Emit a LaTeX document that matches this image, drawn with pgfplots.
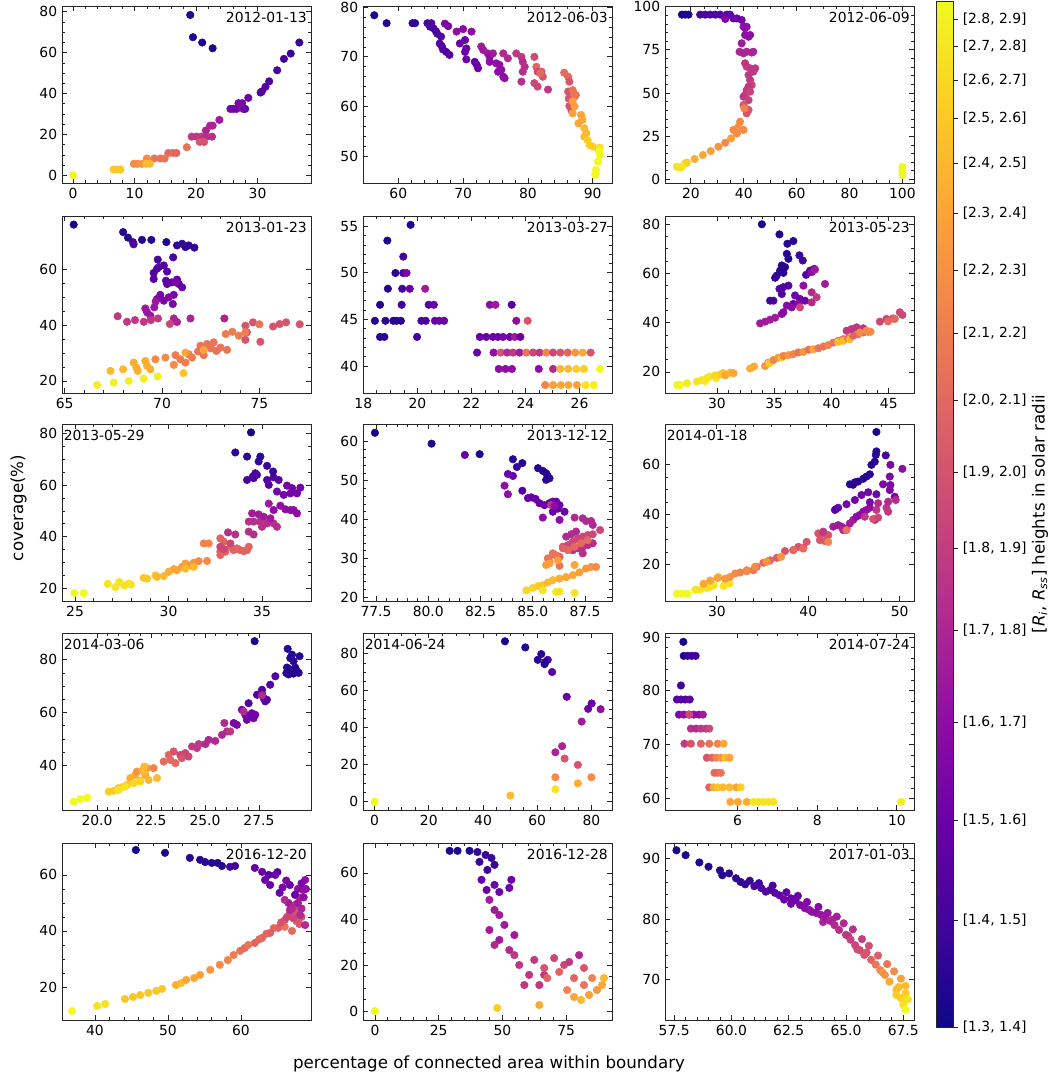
\documentclass[border=0pt]{standalone}
\usepackage{fontspec}
\setmainfont{DejaVu Sans}
\usepackage{pgfplots}
\pgfplotsset{compat=1.18}

\pgfplotsset{
  colormap={plasma}{rgb255=(13,8,135) rgb255=(65,4,157) rgb255=(106,0,168) rgb255=(143,13,164) rgb255=(177,42,144) rgb255=(204,71,120) rgb255=(225,100,98) rgb255=(242,132,75) rgb255=(252,166,54) rgb255=(252,206,37) rgb255=(240,249,33)},
  panel/.style={
    scale only axis, width=179.28pt, height=127.44pt, anchor=north west,
    axis on top, clip=true, scaled ticks=false,
    tick align=inside, xtick pos=both, ytick pos=both,
    xticklabel pos=lower, yticklabel pos=left,
    major tick length=3.5pt, minor tick length=2pt,
    axis line style={black!85, line width=0.6pt},
    every tick/.append style={black!85, line width=0.6pt},
    every minor tick/.append style={line width=0.45pt},
    tick label style={font=\fontsize{10}{12}\selectfont},
    /pgf/number format/assume math mode=true,
    colormap name=plasma, point meta min=0, point meta max=1,
  },
  dots/.style={scatter, only marks, scatter src=explicit, mark=*, mark size=2.7pt,
    scatter/use mapped color={draw=mapped color, fill=mapped color}},
  zf/.style={xticklabel style={/pgf/number format/.cd, fixed, fixed zerofill, precision=1}},
}
\newcommand{\dateR}[1]{\node[anchor=north east, inner sep=0pt, font=\fontsize{10}{12}\selectfont, xshift=-2.9pt, yshift=-4.3pt] at (rel axis cs:1,1) {#1};}
\newcommand{\dateL}[1]{\node[anchor=north west, inner sep=0pt, font=\fontsize{10}{12}\selectfont, xshift=1.1pt, yshift=-4.1pt] at (rel axis cs:0,1) {#1};}

\begin{document}
\begin{tikzpicture}
\path[use as bounding box] (0,0) rectangle (755.28pt,776.16pt);

% ---------- row 1 ----------
\begin{axis}[panel, at={(44.64pt,771.84pt)},
  xmin=-1.8, xmax=38.7, ymin=-3.8, ymax=82.9,
  xtick={0,10,20,30}, ytick={0,20,40,60,80}, minor x tick num=4, minor y tick num=3]
\addplot[dots] table[meta=c] {
x y c
19.06 78.5 0.03
19.5 67.6 0.03
21.0 65.0 0.03
22.7 62.2 0.03
36.8 65.0 0.08
35.4 59.6 0.08
34.3 57.0 0.1
33.2 51.4 0.12
31.9 46.0 0.13
31.3 43.3 0.15
30.5 40.5 0.15
30.7 41.0 0.15
28.5 37.9 0.2
27.5 35.3 0.25
26.9 35.3 0.25
26.6 32.5 0.25
26.1 32.5 0.22
27.7 32.5 0.25
25.6 32.5 0.22
28.0 32.5 0.2
23.8 27.1 0.35
22.7 24.3 0.38
22.3 24.3 0.38
21.6 21.9 0.38
19.3 18.9 0.45
20.1 18.9 0.45
20.9 18.9 0.45
21.7 18.9 0.42
22.6 18.9 0.42
20.6 16.3 0.55
21.3 16.3 0.55
18.5 13.7 0.65
15.5 10.9 0.62
16.2 10.9 0.62
16.8 10.9 0.6
14.9 8.2 0.65
14.2 8.2 0.65
13.2 8.2 0.65
12.0 8.2 0.72
9.9 5.6 0.72
10.5 5.6 0.72
11.2 5.6 0.75
11.9 5.6 0.85
12.5 5.6 0.85
6.6 2.8 0.88
7.1 2.8 0.88
7.7 2.8 0.88
0 0 1.0
};
\dateR{2012-01-13}
\end{axis}

\begin{axis}[panel, at={(261.36pt,771.84pt)},
  xmin=54.56, xmax=92.97, ymin=44.55, ymax=80.27,
  xtick={60,70,80,90}, ytick={50,60,70,80}, minor x tick num=4, minor y tick num=4]
\addplot[dots] table[meta=c] {
x y c
56.3 78.4 0.03
58.2 76.8 0.05
62.2 76.8 0.07
62.6 76.8 0.07
64.5 76.8 0.1
65.1 76.8 0.15
64.9 76.1 0.12
65.4 75.8 0.12
65.8 75.2 0.12
66.0 74.7 0.12
66.6 74.1 0.15
66.4 72.7 0.15
66.7 72.2 0.15
66.9 71.5 0.15
67.4 71.0 0.15
67.9 70.4 0.15
67.2 76.7 0.25
67.7 76.2 0.25
69.0 75.1 0.3
70.0 75.6 0.3
71.3 75.1 0.3
69.5 72.7 0.2
70.3 73.4 0.2
70.5 71.7 0.2
70.3 71.0 0.2
70.5 69.5 0.2
71.8 69.0 0.2
72.1 68.4 0.2
72.3 67.7 0.2
72.8 72.1 0.35
73.1 71.4 0.35
73.8 70.7 0.35
74.1 70.0 0.3
74.6 70.7 0.35
74.1 69.0 0.3
75.1 68.7 0.3
75.6 68.4 0.3
75.9 67.4 0.3
75.4 67.0 0.3
76.2 66.0 0.3
76.4 65.7 0.3
76.2 70.7 0.4
76.9 69.7 0.4
78.2 70.7 0.45
79.0 70.0 0.45
79.2 69.0 0.42
79.5 68.0 0.42
79.2 67.0 0.42
79.0 65.0 0.42
81.0 70.0 0.5
81.3 68.0 0.6
81.5 67.0 0.5
81.0 64.7 0.5
81.5 64.0 0.5
82.1 67.0 0.55
82.3 66.0 0.55
81.9 66.7 0.62
83.1 63.4 0.45
85.6 66.8 0.62
86.2 66.0 0.62
86.4 65.0 0.55
86.2 63.0 0.55
86.3 61.6 0.55
86.4 60.1 0.55
86.7 59.3 0.55
86.9 63.3 0.65
87.2 62.0 0.65
87.4 62.3 0.65
86.9 61.0 0.78
87.2 60.0 0.78
86.9 58.6 0.78
88.2 58.3 0.8
88.4 57.3 0.8
87.8 56.6 0.8
88.7 55.6 0.85
89.0 54.6 0.85
88.7 53.9 0.85
89.2 53.2 0.9
89.5 52.2 0.9
90.0 51.9 0.9
90.8 51.5 0.9
91.1 51.7 0.95
91.0 50.9 1.0
91.1 50.2 1.0
90.8 48.9 1.0
90.5 47.2 1.0
90.4 46.2 1.0
};
\dateR{2012-06-03}
\end{axis}

\begin{axis}[panel, at={(478.8pt,771.84pt)},
  xmin=10.2, xmax=104.4, ymin=-2.1, ymax=100.4,
  xtick={20,40,60,80,100}, ytick={0,25,50,75,100}, minor x tick num=3, minor y tick num=4]
\addplot[dots] table[meta=c] {
x y c
16.6 95.4 0.03
17.9 95.4 0.03
19.1 95.4 0.03
23.5 95.4 0.12
25.4 95.4 0.12
27.3 95.4 0.15
29.2 95.4 0.15
31.1 95.4 0.15
33.6 95.4 0.15
34.8 95.4 0.18
36.1 93.2 0.2
37.4 93.2 0.2
39.2 92.3 0.22
33.0 92.9 0.25
39.9 88.4 0.3
40.5 87.5 0.3
41.1 88.4 0.3
40.5 83.6 0.3
42.4 83.6 0.3
41.8 82.6 0.3
39.2 78.8 0.35
38.4 73.9 0.38
39.9 73.0 0.38
41.1 73.9 0.38
43.0 73.4 0.38
43.6 73.9 0.38
40.5 67.2 0.45
41.1 65.3 0.45
42.4 64.3 0.45
44.3 64.3 0.45
43.6 62.4 0.45
41.8 60.4 0.45
42.4 57.5 0.45
43.0 54.6 0.5
41.8 53.7 0.45
41.1 51.7 0.45
42.4 50.8 0.48
40.5 48.8 0.48
39.9 47.9 0.45
41.8 45.9 0.48
39.9 43.1 0.55
40.5 41.1 0.55
41.8 40.2 0.55
41.1 38.2 0.55
40.2 41.1 0.7
38.6 33.4 0.72
38.0 30.5 0.72
36.1 28.6 0.72
37.4 26.6 0.72
39.9 28.6 0.72
35.2 23.7 0.78
33.0 21.2 0.72
30.4 18.9 0.75
27.5 16.4 0.78
24.5 14.1 0.8
21.4 11.8 0.82
18.5 9.7 0.9
17.9 9.3 0.9
14.7 7.3 0.95
16.0 6.9 0.95
16.6 7.3 0.95
100.0 7.3 1.0
100.0 5.0 1.0
100.0 2.5 1.0
};
\dateR{2012-06-09}
\end{axis}

% ---------- row 2 ----------
\begin{axis}[panel, at={(44.64pt,620.64pt)},
  xmin=64.86, xmax=77.65, ymin=15.66, ymax=79.4,
  xtick={65,70,75}, ytick={20,40,60}, minor x tick num=4, minor y tick num=3]
\addplot[dots] table[meta=c] {
x y c
65.46 76.3 0.02
68.0 73.6 0.05
68.25 71.6 0.05
68.5 70.0 0.12
68.54 69.2 0.12
68.97 70.8 0.05
69.45 70.8 0.05
70.22 70.0 0.03
70.77 68.8 0.07
71.03 69.4 0.07
71.2 68.2 0.07
71.37 68.8 0.07
71.66 68.0 0.07
69.78 63.7 0.12
70.57 64.5 0.12
69.57 58.9 0.15
69.74 60.4 0.15
70.09 61.6 0.15
70.26 59.4 0.15
69.83 61.0 0.15
69.57 56.7 0.15
70.2 56.1 0.18
70.26 54.9 0.18
70.5 55.5 0.18
70.77 56.5 0.18
70.86 54.9 0.18
71.03 53.7 0.18
70.7 55.5 0.25
69.91 51.0 0.25
69.74 49.5 0.25
70.09 48.9 0.25
70.34 50.1 0.25
70.6 51.0 0.25
70.55 47.7 0.25
69.6 46.5 0.33
69.14 46.1 0.33
69.23 44.7 0.33
69.4 43.5 0.33
69.67 48.6 0.33
67.72 43.3 0.45
68.2 41.3 0.45
68.61 41.9 0.45
69.06 41.3 0.45
69.43 41.9 0.45
69.79 42.5 0.45
70.6 42.5 0.38
70.77 41.2 0.38
71.46 42.5 0.38
73.2 42.5 0.38
70.4 40.5 0.5
74.28 39.9 0.55
74.67 41.1 0.55
74.36 37.5 0.55
74.28 34.8 0.55
75.05 34.1 0.55
75.7 39.6 0.55
76.04 40.5 0.55
76.37 41.1 0.55
77.07 40.4 0.55
75.0 40.4 0.65
73.27 36.9 0.68
73.61 37.7 0.68
73.94 36.3 0.68
74.28 37.5 0.68
71.97 32.7 0.65
72.31 33.3 0.65
72.65 33.9 0.65
73.0 32.0 0.65
73.34 31.2 0.65
72.79 30.8 0.65
72.52 31.7 0.65
72.14 29.3 0.65
71.85 30.6 0.65
70.69 29.3 0.68
70.94 27.8 0.68
71.2 26.6 0.68
71.37 29.6 0.68
71.54 28.4 0.68
70.6 25.8 0.72
70.17 28.4 0.72
69.66 27.8 0.72
71.2 30.2 0.8
72.14 31.1 0.8
68.54 26.6 0.82
68.68 24.8 0.82
68.75 23.6 0.82
69.14 27.2 0.82
69.23 25.4 0.82
69.4 24.2 0.82
67.35 23.6 0.85
68.0 24.2 0.85
71.1 22.8 0.88
66.66 18.6 0.98
67.52 19.4 0.98
68.29 20.0 0.98
69.06 20.8 0.98
69.78 21.6 0.98
};
\dateR{2013-01-23}
\end{axis}

\begin{axis}[panel, at={(261.36pt,620.64pt)},
  xmin=17.99, xmax=27.2, ymin=37.1, ymax=56.1,
  xtick={18,20,22,24,26}, ytick={40,45,50,55}, minor x tick num=3, minor y tick num=4]
\addplot[dots] table[meta=c] {
x y c
19.75 55.15 0.03
18.89 53.46 0.03
19.48 51.74 0.1
19.19 49.98 0.05
19.48 49.98 0.12
19.6 49.98 0.25
18.91 48.29 0.05
19.44 48.29 0.1
19.72 48.29 0.2
20.29 48.29 0.35
18.62 46.57 0.05
19.42 46.57 0.1
20.42 46.57 0.15
20.61 46.57 0.2
22.68 46.57 0.3
22.89 46.57 0.35
23.49 46.57 0.15
18.43 44.85 0.05
18.82 44.85 0.05
19.11 44.85 0.05
19.23 44.85 0.05
19.39 44.85 0.05
20.15 44.85 0.12
20.31 44.85 0.12
20.65 44.85 0.2
20.81 44.85 0.2
20.99 44.85 0.2
23.66 44.85 0.3
24.08 44.85 0.55
18.62 43.12 0.05
18.78 43.12 0.05
19.99 43.12 0.1
22.31 43.12 0.2
22.55 43.12 0.2
22.8 43.12 0.2
22.98 43.12 0.2
23.17 43.12 0.25
23.42 43.12 0.2
23.6 43.12 0.35
23.81 43.12 0.2
22.21 41.44 0.2
22.82 41.44 0.3
23.08 41.44 0.55
23.32 41.44 0.4
23.54 41.44 0.45
23.78 41.44 0.35
24.03 41.44 0.65
24.28 41.44 0.5
24.52 41.44 0.45
24.77 41.44 0.7
25.02 41.44 0.5
25.29 41.44 0.55
25.56 41.44 0.6
25.84 41.44 0.75
26.12 41.44 0.8
26.41 41.44 0.55
23.01 39.68 0.3
23.26 39.68 0.3
23.5 39.68 0.3
24.49 39.68 0.3
25.02 39.68 0.4
25.29 39.68 0.85
25.58 39.68 0.85
25.88 39.68 0.9
26.16 39.68 0.9
26.76 39.68 1.0
24.73 37.95 0.7
25.02 37.95 0.78
25.31 37.95 0.8
25.59 37.95 0.8
25.9 37.95 0.78
26.22 37.95 0.95
26.52 37.95 0.98
};
\dateR{2013-03-27}
\end{axis}

\begin{axis}[panel, at={(478.8pt,620.64pt)},
  xmin=25.47, xmax=47.2, ymin=11.45, ymax=83.26,
  xtick={30,35,40,45}, ytick={20,40,60,80}, minor x tick num=4, minor y tick num=3]
\addplot[dots] table[meta=c] {
x y c
33.92 79.9 0.02
35.46 75.8 0.04
36.15 72.0 0.05
36.67 73.1 0.05
36.1 67.9 0.05
36.24 65.9 0.05
37.2 67.3 0.08
37.49 65.2 0.1
35.66 63.2 0.05
35.95 62.5 0.05
35.51 61.1 0.05
35.8 60.2 0.05
35.22 59.1 0.08
35.08 58.2 0.08
37.78 59.4 0.15
38.13 61.1 0.15
38.5 61.8 0.15
37.55 55.0 0.3
38.27 60.5 0.3
38.56 61.5 0.35
35.46 53.7 0.15
35.8 54.4 0.15
36.24 55.0 0.15
35.66 51.6 0.15
39.43 55.7 0.35
34.64 48.9 0.12
34.93 48.9 0.12
36.82 51.0 0.2
37.25 49.6 0.2
37.69 48.9 0.2
36.67 47.6 0.2
38.27 52.3 0.4
38.27 48.2 0.4
38.7 50.3 0.45
36.1 46.9 0.28
35.8 44.2 0.28
35.66 43.5 0.28
36.53 46.2 0.28
37.1 47.6 0.28
37.25 46.2 0.5
33.77 39.7 0.35
34.21 40.4 0.35
34.64 41.2 0.35
35.08 42.0 0.35
26.52 14.7 1.0
26.81 14.7 1.0
27.39 15.4 0.97
28.26 16.1 0.95
28.69 16.7 0.95
28.98 16.3 0.97
29.19 17.7 0.95
29.42 18.1 0.95
29.94 17.4 0.97
29.85 18.6 0.92
30.29 19.0 0.9
30.58 19.5 0.88
31.16 19.7 0.85
31.45 19.5 0.8
30.73 18.6 0.8
32.9 21.4 0.82
33.25 22.2 0.82
34.21 22.4 0.75
34.5 23.8 0.75
34.58 23.5 0.9
34.93 24.8 0.7
35.37 25.8 0.75
35.66 25.8 0.9
35.8 26.5 0.7
36.24 26.8 0.75
36.67 27.2 0.7
37.1 27.9 0.65
37.55 28.1 0.75
38.0 29.0 0.65
38.41 29.2 0.8
38.85 29.6 0.65
39.29 30.3 0.65
39.72 30.9 0.7
40.16 31.9 0.65
40.59 32.6 0.6
40.59 32.2 0.85
41.03 33.3 0.65
41.03 32.6 0.85
41.46 33.6 0.65
41.61 33.3 0.85
41.9 34.7 0.6
42.33 35.3 0.6
42.77 36.0 0.6
43.2 36.3 0.65
41.32 36.7 0.45
41.75 37.4 0.45
42.19 38.1 0.45
42.77 37.7 0.45
42.48 36.0 0.72
43.06 36.7 0.72
43.41 36.3 0.72
44.22 40.4 0.5
44.8 41.5 0.5
45.38 41.7 0.5
45.96 44.2 0.5
46.19 43.1 0.5
44.94 40.5 0.62
45.52 41.5 0.62
};
\dateR{2013-05-23}
\end{axis}

% ---------- row 3 ----------
\begin{axis}[panel, at={(44.64pt,470.88pt)},
  xmin=24.3, xmax=37.62, ymin=14.93, ymax=83.77,
  xtick={25,30,35}, ytick={20,40,60,80}, minor x tick num=4, minor y tick num=3]
\addplot[dots] table[meta=c] {
x y c
24.96 18.0 1.0
25.46 18.0 1.0
26.75 21.6 0.95
27.16 20.3 0.95
27.37 22.3 0.95
27.64 21.0 0.95
27.87 21.7 0.95
27.99 21.3 0.95
28.67 23.9 0.88
28.85 23.6 0.88
29.3 24.9 0.88
29.39 24.3 0.85
29.74 24.6 0.85
30.01 26.3 0.82
30.28 27.3 0.8
30.45 26.9 0.8
30.72 28.2 0.78
30.9 29.5 0.78
31.17 28.8 0.75
31.35 29.8 0.75
31.61 30.4 0.72
32.06 30.5 0.72
30.9 27.5 0.85
31.35 28.2 0.85
31.88 37.3 0.7
32.15 37.3 0.7
32.77 39.3 0.6
32.95 38.0 0.6
32.77 34.1 0.6
32.77 32.8 0.6
33.04 34.1 0.6
33.31 36.0 0.6
33.48 34.7 0.6
33.66 35.4 0.6
33.84 34.7 0.6
34.02 34.3 0.6
34.2 34.7 0.6
34.29 36.0 0.6
32.77 36.0 0.5
32.95 35.1 0.5
33.31 37.3 0.5
33.18 41.6 0.42
33.57 40.8 0.42
34.29 41.9 0.42
34.55 40.8 0.42
34.29 45.8 0.42
34.55 45.8 0.42
34.88 45.8 0.42
35.0 43.8 0.42
35.27 45.1 0.42
35.62 45.1 0.42
35.8 43.8 0.42
34.47 49.0 0.35
34.82 48.6 0.35
35.09 47.7 0.35
35.45 47.1 0.35
35.36 52.8 0.35
35.62 50.3 0.3
35.98 52.0 0.3
36.25 50.6 0.3
36.52 50.3 0.3
36.69 50.3 0.3
36.87 49.0 0.3
35.8 57.5 0.22
36.16 56.2 0.22
36.34 59.8 0.22
36.61 58.8 0.22
36.87 56.8 0.22
37.05 59.0 0.22
36.52 56.8 0.22
34.2 62.0 0.12
34.55 62.7 0.12
34.73 64.0 0.12
34.64 64.6 0.12
34.5 63.3 0.12
35.27 62.0 0.15
35.36 60.1 0.15
35.62 63.0 0.15
35.89 62.0 0.15
33.57 72.7 0.06
34.2 71.1 0.06
34.82 69.2 0.06
34.91 71.1 0.06
35.27 67.5 0.08
35.59 65.3 0.08
34.41 80.5 0.02
};
\dateL{2013-05-29}
\end{axis}

\begin{axis}[panel, zf, at={(261.36pt,470.88pt)},
  xmin=76.88, xmax=88.79, ymin=19.05, ymax=64.56,
  xtick={77.5,80,82.5,85,87.5}, ytick={20,30,40,50,60}, minor x tick num=4, minor y tick num=4]
\addplot[dots] table[meta=c] {
x y c
77.45 62.3 0.02
80.16 59.5 0.03
81.75 56.6 0.2
82.46 56.8 0.03
84.05 55.5 0.05
84.5 54.5 0.05
84.24 53.5 0.08
83.81 51.7 0.2
84.05 51.2 0.2
83.65 48.7 0.3
83.81 46.5 0.3
84.5 47.4 0.15
85.25 53.2 0.05
85.48 52.5 0.05
85.64 51.9 0.05
85.72 51.1 0.05
85.64 50.2 0.05
85.8 50.6 0.05
84.77 45.5 0.2
84.93 45.7 0.2
85.13 45.3 0.2
85.32 44.2 0.2
85.56 43.7 0.2
85.8 44.2 0.2
85.96 44.6 0.2
86.12 44.6 0.2
86.28 43.7 0.2
85.96 42.0 0.2
86.52 42.0 0.2
86.2 42.8 0.2
85.48 40.5 0.3
85.88 43.7 0.45
86.04 43.5 0.3
86.28 39.9 0.3
86.6 35.6 0.4
86.84 36.2 0.4
87.07 36.9 0.4
87.0 40.5 0.4
87.39 40.3 0.4
87.55 39.6 0.4
87.79 39.6 0.4
87.87 38.6 0.4
86.44 33.0 0.5
86.68 33.4 0.5
86.92 34.3 0.5
87.15 35.1 0.5
87.39 35.6 0.5
87.63 36.0 0.5
87.87 36.2 0.5
88.22 37.3 0.5
86.92 32.1 0.42
87.15 32.6 0.42
87.39 33.0 0.42
87.63 33.4 0.42
87.87 33.9 0.42
87.39 31.3 0.42
86.68 32.1 0.62
87.0 33.0 0.62
87.31 33.9 0.62
87.63 34.7 0.62
86.28 30.4 0.6
86.44 32.6 0.6
85.96 31.0 0.6
85.72 30.0 0.65
85.96 31.3 0.65
86.12 30.8 0.65
85.8 29.1 0.65
86.28 28.1 0.65
85.8 28.7 0.78
86.2 29.5 0.78
85.64 28.3 0.78
84.69 21.8 0.92
85.0 22.4 0.92
85.25 22.9 0.9
85.48 23.1 0.88
85.72 23.8 0.85
85.96 24.4 0.85
86.28 24.8 0.82
86.6 25.2 0.8
86.92 25.7 0.8
87.23 26.4 0.78
87.55 27.4 0.75
87.79 27.8 0.75
88.03 27.8 0.72
85.48 21.8 0.95
86.12 21.4 0.95
86.28 21.5 0.95
87.0 21.1 0.95
87.0 28.3 0.8
};
\dateR{2013-12-12}
\end{axis}

\begin{axis}[panel, at={(478.8pt,470.88pt)},
  xmin=24.33, xmax=51.56, ymin=5.37, ymax=76.4,
  xtick={30,40,50}, ytick={20,40,60}, minor x tick num=4, minor y tick num=3]
\addplot[dots] table[meta=c] {
x y c
25.64 8.3 1.0
26.18 8.3 1.0
26.8 8.3 1.0
27.64 9.9 0.95
28.18 9.9 0.95
28.91 10.6 0.95
29.27 11.0 0.95
29.64 11.7 0.95
30.18 15.0 0.88
30.73 11.4 0.95
31.38 12.3 0.95
28.55 12.3 0.8
29.27 13.6 0.8
30.07 14.6 0.78
30.91 14.3 0.75
31.45 15.0 0.75
32.0 16.4 0.72
32.55 16.8 0.7
33.27 17.3 0.68
34.0 17.7 0.65
34.36 19.1 0.62
35.09 20.7 0.62
35.82 21.7 0.6
36.55 22.7 0.58
37.45 25.4 0.55
38.36 25.8 0.55
38.91 27.1 0.55
39.45 26.7 0.55
39.82 29.1 0.55
33.27 17.7 0.72
34.18 19.1 0.72
35.45 21.1 0.75
37.02 23.1 0.75
38.36 25.8 0.62
39.45 26.4 0.62
41.09 32.5 0.55
41.64 32.5 0.5
42.18 31.8 0.55
41.27 29.8 0.55
41.82 29.4 0.55
41.64 33.2 0.45
42.18 29.1 0.7
42.73 35.2 0.35
43.27 35.8 0.35
43.64 35.2 0.35
43.82 33.8 0.4
44.18 34.5 0.35
44.55 36.5 0.35
44.91 37.9 0.35
45.27 39.2 0.3
45.64 39.9 0.3
46.0 41.2 0.3
46.36 41.9 0.3
46.73 42.8 0.3
47.27 37.9 0.4
44.18 33.8 0.65
46.18 39.2 0.45
47.09 38.3 0.55
47.64 38.8 0.5
47.45 41.9 0.45
47.64 44.6 0.4
48.73 41.2 0.45
48.55 42.8 0.45
48.73 45.2 0.4
42.91 41.9 0.22
43.27 42.8 0.22
44.18 44.2 0.22
45.09 45.9 0.22
45.82 47.9 0.22
46.55 49.0 0.22
47.45 48.2 0.22
46.73 45.0 0.25
43.0 42.2 0.15
44.55 52.2 0.05
44.9 52.0 0.05
45.09 53.0 0.05
45.45 53.3 0.05
46.0 54.4 0.05
46.36 55.3 0.05
46.73 56.2 0.05
46.91 60.0 0.05
47.27 61.3 0.05
47.38 64.0 0.05
47.45 65.4 0.05
47.45 73.2 0.02
48.47 63.8 0.1
48.91 55.3 0.25
48.98 51.9 0.25
48.91 49.9 0.25
49.45 47.2 0.25
48.98 60.0 0.25
48.18 52.2 0.25
50.29 58.4 0.3
49.56 45.9 0.4
};
\dateL{2014-01-18}
\end{axis}

% ---------- row 4 ----------
\begin{axis}[panel, zf, at={(44.64pt,320.4pt)},
  xmin=18.38, xmax=29.91, ymin=23.04, ymax=90.1,
  xtick={20,22.5,25,27.5}, ytick={40,60,80}, minor x tick num=4, minor y tick num=3]
\addplot[dots] table[meta=c] {
x y c
18.92 26.2 1.0
19.23 27.2 1.0
19.54 27.7 1.0
20.54 30.0 0.9
20.77 30.3 0.9
21.0 31.3 0.88
21.23 31.9 0.88
21.39 32.5 0.88
21.54 35.1 0.82
21.77 36.3 0.82
22.0 34.1 0.82
22.24 36.3 0.8
22.39 34.4 0.85
22.78 35.1 0.85
21.0 30.6 0.95
21.3 31.9 0.95
21.7 33.2 0.92
22.0 33.8 0.92
21.85 37.6 0.75
22.16 38.2 0.75
22.31 38.9 0.75
22.62 38.9 0.7
22.16 37.6 0.85
22.19 39.5 0.85
23.09 41.4 0.62
23.32 43.9 0.6
23.55 45.2 0.55
23.4 42.0 0.62
23.63 40.8 0.62
23.86 43.9 0.5
24.09 44.6 0.5
23.93 42.7 0.55
24.24 43.3 0.5
24.4 47.1 0.45
24.63 46.5 0.45
24.71 48.0 0.45
25.02 48.0 0.4
25.17 49.6 0.4
25.48 49.2 0.4
25.79 51.5 0.4
26.02 52.8 0.4
25.9 56.0 0.4
26.17 52.8 0.45
26.33 56.0 0.25
26.48 55.3 0.25
26.71 61.0 0.22
26.87 59.1 0.22
26.94 57.2 0.22
27.02 58.5 0.22
27.25 57.8 0.22
27.33 59.1 0.22
27.17 59.7 0.22
26.79 60.4 0.4
27.02 63.5 0.15
27.41 66.7 0.15
27.64 67.3 0.15
27.72 65.4 0.15
27.79 64.2 0.15
27.87 64.8 0.15
28.02 70.5 0.15
27.64 68.6 0.15
28.26 73.7 0.15
27.64 66.5 0.4
27.3 87.0 0.02
28.83 84.1 0.05
28.95 80.6 0.05
29.03 81.9 0.05
29.1 79.4 0.05
28.8 77.0 0.05
28.95 76.3 0.05
29.18 77.0 0.05
29.26 75.6 0.05
29.34 75.0 0.05
28.87 74.4 0.05
29.1 74.7 0.05
29.38 81.3 0.05
28.77 74.9 0.05
};
\dateL{2014-03-06}
\end{axis}

\begin{axis}[panel, at={(261.36pt,320.4pt)},
  xmin=-4.29, xmax=87.6, ymin=-4.5, ymax=91.2,
  xtick={0,20,40,60,80}, ytick={0,20,40,60,80}, minor x tick num=3, minor y tick num=3]
\addplot[dots] table[meta=c] {
x y c
0 0 1.0
48.1 86.7 0.02
55.6 83.4 0.03
61.5 79.8 0.05
60.2 76.7 0.05
62.7 74.4 0.05
63.9 76.7 0.15
63.0 75.5 0.05
65.5 70.1 0.15
70.9 56.7 0.2
78.8 50.2 0.2
80.1 53.1 0.2
83.4 50.0 0.3
76.4 43.3 0.35
66.7 26.7 0.38
69.2 30.0 0.38
70.1 23.3 0.55
75.0 19.9 0.55
66.7 13.2 0.72
80.0 13.2 0.72
75.0 9.9 0.82
66.7 6.7 0.95
50.1 3.3 0.85
};
\dateL{2014-06-24}
\end{axis}

\begin{axis}[panel, at={(478.8pt,320.4pt)},
  xmin=4.18, xmax=10.43, ymin=57.9, ymax=90.74,
  xtick={6,8,10}, ytick={60,70,80,90}, minor x tick num=3, minor y tick num=4]
\addplot[dots] table[meta=c] {
x y c
4.64 89.1 0.02
4.65 86.5 0.03
4.75 86.5 0.08
4.85 86.5 0.1
4.95 86.5 0.1
4.58 81.0 0.1
4.48 78.4 0.15
4.58 78.4 0.15
4.69 78.4 0.15
4.8 78.4 0.15
4.53 75.6 0.25
4.65 75.6 0.3
4.78 75.6 0.3
4.9 75.6 0.3
5.03 75.6 0.3
5.13 75.6 0.35
4.79 75.6 0.5
4.83 73.0 0.42
4.96 73.0 0.4
5.08 73.0 0.45
5.21 73.0 0.45
5.29 73.0 0.5
4.67 70.2 0.45
4.83 70.2 0.55
5.08 70.2 0.6
5.29 70.2 0.65
5.5 70.2 0.7
5.65 70.2 0.8
5.23 67.6 0.55
5.36 67.6 0.6
5.47 67.6 0.7
5.58 67.6 0.75
5.69 67.6 0.85
5.8 67.6 0.8
5.42 64.8 0.62
5.5 64.8 0.62
5.58 64.8 0.65
5.29 62.1 0.6
5.4 62.1 0.82
5.5 62.1 0.88
5.63 62.1 0.85
5.8 62.1 0.85
5.97 62.1 0.8
6.08 62.1 0.9
5.82 59.4 0.8
6.01 59.4 0.8
6.23 59.4 0.82
6.4 59.4 0.95
6.53 59.4 0.95
6.65 59.4 0.95
6.78 59.4 0.95
6.9 59.4 0.95
10.11 59.4 0.98
};
\dateR{2014-07-24}
\end{axis}

% ---------- row 5 ----------
\begin{axis}[panel, at={(44.64pt,169.2pt)},
  xmin=35.48, xmax=69.6, ymin=8.2, ymax=71.4,
  xtick={40,50,60}, ytick={20,40,60}, minor x tick num=4, minor y tick num=3]
\addplot[dots] table[meta=c] {
x y c
36.85 11.4 1.0
40.3 13.2 0.95
41.4 13.9 0.95
44.1 15.7 0.88
45.2 16.4 0.88
46.2 17.1 0.88
47.3 17.9 0.88
48.4 18.6 0.88
49.2 19.3 0.88
51.1 20.7 0.82
51.8 21.4 0.85
52.5 22.5 0.8
53.6 23.2 0.8
54.4 24.3 0.78
55.8 26.1 0.75
57.1 27.9 0.72
58.2 29.6 0.7
59.0 31.4 0.68
59.9 32.9 0.65
60.5 33.9 0.62
61.9 35.7 0.6
62.9 37.5 0.6
64.0 39.3 0.58
65.1 41.1 0.58
66.0 43.9 0.55
66.7 46.1 0.5
67.4 49.3 0.45
68.1 51.8 0.4
68.5 54.6 0.35
68.8 58.2 0.3
66.0 41.5 0.65
67.0 40.0 0.62
67.6 43.5 0.62
67.4 47.0 0.55
68.3 45.0 0.55
61.0 35.0 0.65
62.5 37.0 0.62
63.5 39.0 0.6
64.5 41.0 0.6
65.5 43.0 0.55
66.3 45.0 0.5
67.2 44.5 0.5
68.0 42.5 0.55
66.5 50.0 0.35
67.0 48.0 0.4
67.8 50.0 0.35
68.3 48.0 0.38
68.6 52.0 0.3
68.9 55.0 0.3
68.3 57.0 0.25
67.8 55.0 0.3
66.2 58.0 0.25
65.7 55.5 0.25
63.8 60.0 0.15
65.0 61.0 0.15
45.6 68.9 0.02
49.6 67.9 0.03
53.0 66.1 0.05
54.4 65.4 0.05
55.1 64.6 0.05
56.0 64.3 0.05
56.8 64.3 0.05
57.4 63.2 0.05
58.5 62.9 0.1
59.2 63.2 0.1
61.9 62.5 0.2
62.9 61.1 0.2
63.3 58.2 0.2
64.0 56.4 0.2
64.7 60.0 0.2
65.3 53.6 0.2
66.7 56.4 0.2
67.4 52.9 0.2
66.0 51.1 0.4
66.7 47.5 0.4
68.1 45.7 0.4
68.8 42.1 0.4
};
\dateR{2016-12-20}
\end{axis}

\begin{axis}[panel, at={(261.36pt,169.2pt)},
  xmin=-4.7, xmax=93, ymin=-3.9, ymax=73,
  xtick={0,25,50,75}, ytick={0,20,40,60}, minor x tick num=4, minor y tick num=3]
\addplot[dots] table[meta=c] {
x y c
0 0 1.0
48.0 1.3 0.9
64.5 2.6 0.8
29.3 69.6 0.03
32.4 69.6 0.03
37.1 69.6 0.03
40.2 69.1 0.08
43.4 67.8 0.08
45.7 66.5 0.08
46.9 63.5 0.08
41.0 64.8 0.08
44.1 61.3 0.1
41.8 57.0 0.2
43.8 52.6 0.2
46.9 54.8 0.2
48.8 51.7 0.2
52.7 53.5 0.2
53.5 57.0 0.2
44.9 48.3 0.35
46.9 43.9 0.35
48.8 41.7 0.35
50.8 37.4 0.35
44.9 35.2 0.35
48.8 30.9 0.35
52.7 26.5 0.4
54.7 33.0 0.35
46.9 28.7 0.4
54.7 24.3 0.45
56.6 20.0 0.45
60.5 15.7 0.45
58.6 11.3 0.45
64.5 11.3 0.45
66.4 15.7 0.45
62.5 22.2 0.45
70.3 23.0 0.5
74.2 20.0 0.5
76.2 21.3 0.45
80.1 24.3 0.4
82.0 18.7 0.55
78.1 14.3 0.6
82.0 11.3 0.65
85.2 14.3 0.7
87.1 9.1 0.75
89.1 11.3 0.8
89.8 14.3 0.85
75.4 9.1 0.7
78.1 6.1 0.8
80.9 4.8 0.85
84.0 7.0 0.78
72.3 17.0 0.6
67.6 14.3 0.6
66.4 18.7 0.55
};
\dateR{2016-12-28}
\end{axis}

\begin{axis}[panel, zf, at={(478.8pt,169.2pt)},
  xmin=57.1, xmax=67.97, ymin=63.4, ymax=92.5,
  xtick={57.5,60,62.5,65,67.5}, ytick={70,80,90}, minor x tick num=4, minor y tick num=4]
\addplot[dots] table[meta=c] {
x y c
57.6 91.3 0.02
58.6 89.3 0.03
58.0 90.5 0.03
59.0 88.6 0.04
59.5 88.0 0.05
59.6 87.2 0.05
59.9 87.5 0.06
60.2 86.7 0.07
60.4 86.1 0.07
60.6 85.7 0.07
60.8 86.3 0.08
61.0 85.4 0.12
61.2 85.9 0.1
61.3 85.1 0.12
61.5 84.5 0.15
61.7 84.8 0.15
61.8 85.5 0.12
61.9 84.3 0.15
62.1 83.9 0.18
62.3 83.2 0.2
62.4 84.4 0.17
62.6 83.4 0.2
62.6 82.5 0.22
62.8 83.1 0.2
62.9 83.8 0.2
63.0 82.3 0.25
63.2 81.8 0.28
63.3 82.8 0.25
63.4 81.5 0.3
63.5 81.2 0.3
63.7 81.0 0.3
63.8 82.0 0.28
63.9 80.7 0.32
64.0 79.5 0.38
64.1 80.2 0.35
64.2 81.0 0.33
64.3 79.7 0.38
64.4 79.9 0.38
64.5 79.0 0.4
64.6 80.4 0.36
64.7 78.2 0.42
64.9 79.3 0.4
65.0 77.4 0.45
65.1 77.2 0.45
65.2 76.6 0.48
65.3 78.3 0.43
65.4 75.7 0.5
65.5 75.0 0.5
65.6 74.9 0.52
65.7 76.7 0.47
65.8 74.1 0.55
65.9 74.5 0.55
66.0 75.6 0.52
66.1 73.3 0.6
66.3 72.5 0.65
66.4 74.0 0.58
66.5 71.6 0.7
66.6 71.2 0.75
66.7 70.8 0.75
66.8 72.6 0.65
66.9 69.7 0.8
67.1 71.4 0.72
67.2 68.4 0.85
67.2 67.5 0.9
67.3 68.8 0.85
67.4 70.2 0.78
67.4 67.0 0.9
67.5 66.5 0.92
67.5 65.9 0.95
67.6 69.0 0.85
67.6 67.8 0.9
67.7 66.8 0.95
67.6 65.1 1.0
};
\dateR{2017-01-03}
\end{axis}

% ---------- colorbar ----------
\begin{axis}[scale only axis, width=12.24pt, height=738.72pt, anchor=north west,
  at={(673.92pt,775.44pt)}, xmin=0, xmax=1, ymin=0, ymax=1, axis on top,
  xtick=\empty, ytick pos=right, yticklabel pos=right, tick align=outside,
  major tick length=3.5pt, axis line style={black!85, line width=0.6pt},
  every tick/.append style={black!85, line width=0.6pt},
  tick label style={font=\fontsize{10}{12}\selectfont},
  colormap name=plasma, point meta min=0, point meta max=1,
  ytick={0,0.1043,0.2018,0.2973,0.3869,0.4669,0.5409,0.6111,0.6764,0.7378,0.7931,0.8418,0.8857,0.9230,0.9561,0.9825},
  yticklabels={{[1.3, 1.4]},{[1.4, 1.5]},{[1.5, 1.6]},{[1.6, 1.7]},{[1.7, 1.8]},{[1.8, 1.9]},{[1.9, 2.0]},{[2.0, 2.1]},{[2.1, 2.2]},{[2.2, 2.3]},{[2.3, 2.4]},{[2.4, 2.5]},{[2.5, 2.6]},{[2.6, 2.7]},{[2.7, 2.8]},{[2.8, 2.9]}}]
\addplot[patch, patch type=rectangle, shader=interp, point meta=y] coordinates {
(0,0) (1,0) (1,0.1) (0,0.1)
(0,0.1) (1,0.1) (1,0.2) (0,0.2)
(0,0.2) (1,0.2) (1,0.3) (0,0.3)
(0,0.3) (1,0.3) (1,0.4) (0,0.4)
(0,0.4) (1,0.4) (1,0.5) (0,0.5)
(0,0.5) (1,0.5) (1,0.6) (0,0.6)
(0,0.6) (1,0.6) (1,0.7) (0,0.7)
(0,0.7) (1,0.7) (1,0.8) (0,0.8)
(0,0.8) (1,0.8) (1,0.9) (0,0.9)
(0,0.9) (1,0.9) (1,1) (0,1)
};
\end{axis}

% ---------- shared labels ----------
\node[anchor=base, font=\fontsize{12}{14}\selectfont] at (352.1pt,6.5pt) {percentage of connected area within boundary};
\node[rotate=90, font=\fontsize{12}{14}\selectfont] at (13.3pt,410.4pt) {coverage(\%)};
\node[rotate=90, font=\fontsize{12}{14}\selectfont] at (748.8pt,406.1pt) {[\textit{R}\textsubscript{\textit{i}}, \textit{R}\textsubscript{\textit{ss}}] heights in solar radii};
\end{tikzpicture}
\end{document}
